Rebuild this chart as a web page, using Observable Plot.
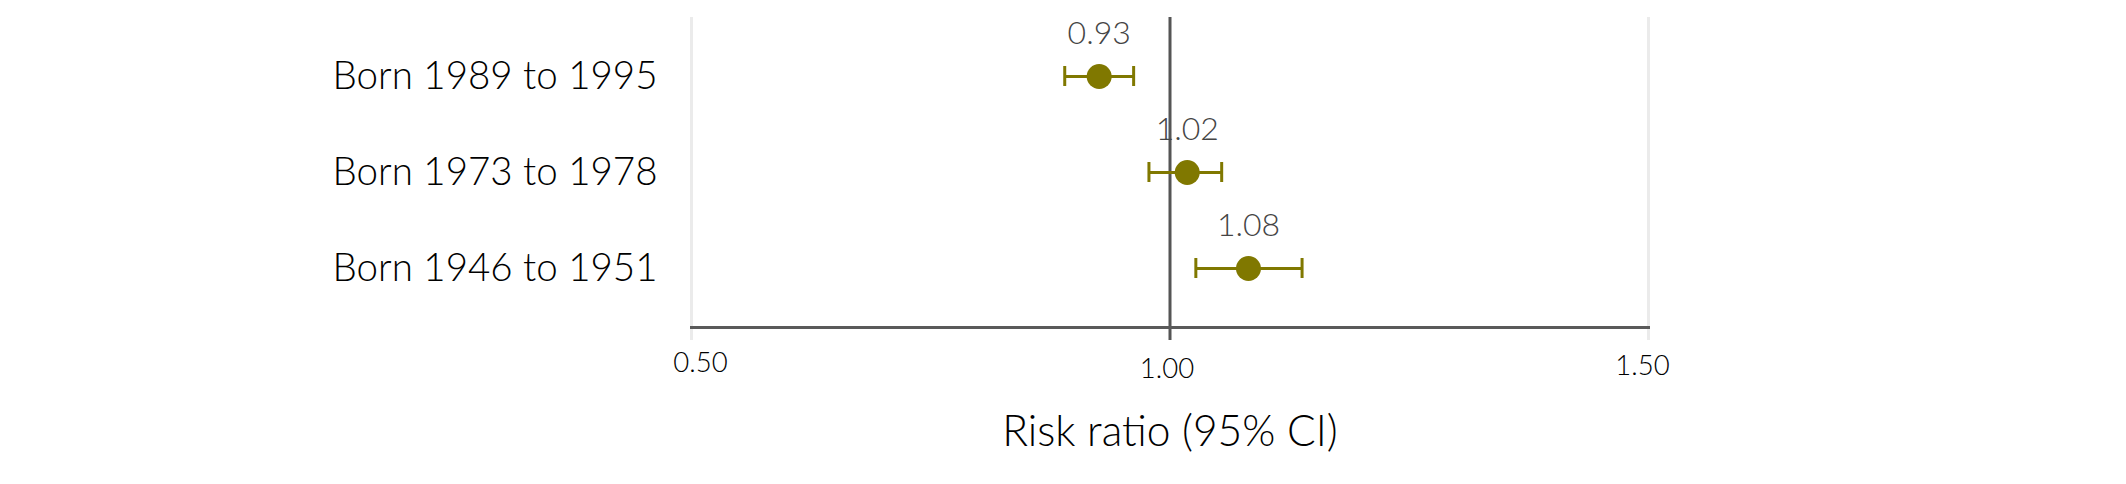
<!DOCTYPE html>
<html><head><meta charset="utf-8">
<script src="https://cdn.jsdelivr.net/npm/d3@7"></script>
<script src="https://cdn.jsdelivr.net/npm/@observablehq/plot@0.6"></script>
<style>html,body{margin:0;padding:0;background:#fff} svg{display:block}</style>
</head><body><div id="chart"></div>
<script>
// ---- data ----
const cohorts = ["Born 1989 to 1995", "Born 1973 to 1978", "Born 1946 to 1951"];
const riskRatio = [0.926, 1.018, 1.082];
const ciLower = [0.890, 0.978, 1.027];
const ciUpper = [0.962, 1.054, 1.138];
const xGridTicks = [0.5, 1.5];
const xTickLow = [0.5];
const xTickRef = [1.0];
const xTickHigh = [1.5];
const xTitle = "Risk ratio (95% CI)";

const rows = cohorts.map((c, i) => ({cohort: c, rr: riskRatio[i], lo: ciLower[i], hi: ciUpper[i]}));
const olive = "#807800";
const fmt = d3.format(".2f");
const tickStyle = {tickSize: 0, fontSize: 27.5, fontWeight: 300, fill: "#000", tickFormat: fmt, label: null};

const chart = Plot.plot({
  width: 2126, height: 484,
  marginLeft: 691, marginRight: 478, marginTop: 17, marginBottom: 157,
  style: {fontFamily: "Lato, sans-serif", background: "#fff", color: "#000", fontWeight: 300},
  x: {domain: [0.5, 1.5]},
  y: {type: "point", domain: cohorts, padding: 0.6},
  marks: [
    Plot.ruleX(xGridTicks, {stroke: "#ebebeb", strokeWidth: 3, insetBottom: -13}),
    Plot.ruleX(xTickRef, {stroke: "#555", strokeWidth: 3, insetBottom: -13}),
    Plot.frame({anchor: "bottom", stroke: "#5a5a5a", strokeWidth: 3}),
    Plot.axisY({tickSize: 0, tickPadding: 34, fontSize: 38.5, fill: "#000", label: null}),
    Plot.axisX(xTickLow, {...tickStyle, tickPadding: 25, dx: 9}),
    Plot.axisX(xTickRef, {...tickStyle, tickPadding: 31, dx: -3}),
    Plot.axisX(xTickHigh, {...tickStyle, tickPadding: 28, dx: -6}),
    Plot.text([xTitle], {frameAnchor: "bottom", dy: 118, fontSize: 42.5, fill: "#000"}),
    Plot.ruleY(rows, {x1: "lo", x2: "hi", y: "cohort", stroke: olive, strokeWidth: 3}),
    Plot.ruleX(rows, {x: "lo", y1: "cohort", y2: "cohort", stroke: olive, strokeWidth: 3, insetTop: -10, insetBottom: -10}),
    Plot.ruleX(rows, {x: "hi", y1: "cohort", y2: "cohort", stroke: olive, strokeWidth: 3, insetTop: -10, insetBottom: -10}),
    Plot.dot(rows, {x: "rr", y: "cohort", r: 12.5, fill: olive, stroke: null}),
    Plot.text(rows, {x: "rr", y: "cohort", text: d => fmt(d.rr), lineAnchor: "bottom", dy: -33, fontSize: 32, fontWeight: 300, fill: "#454545"})
  ]
});
document.getElementById("chart").appendChild(chart);
</script>
</body></html>
